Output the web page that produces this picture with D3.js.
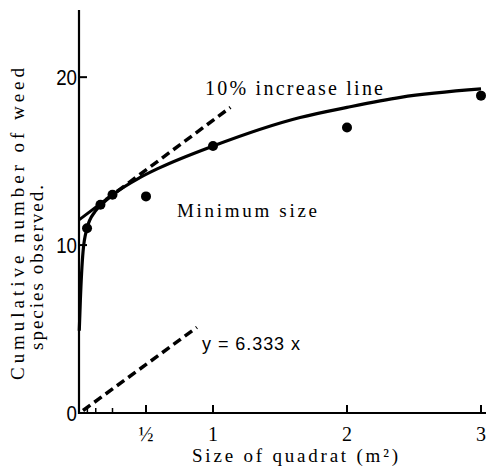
<!DOCTYPE html>
<html>
<head>
<meta charset="utf-8">
<script src="https://cdn.jsdelivr.net/npm/d3@7"></script>
<style>
  body { margin: 0; background: #fff; }
  svg { display: block; }
</style>
</head>
<body>
<div id="chart"></div>
<script>
// observed points
const sizes = [0.06, 0.16, 0.25, 0.5, 1, 2, 3];
const species = [11.0, 12.4, 13.0, 12.9, 15.9, 17.0, 18.9];

// fitted curve
const curveX = [0.002, 0.01, 0.03, 0.06, 0.12, 0.18, 0.27, 0.45, 0.6, 1, 1.65, 2, 2.4, 3];
const curveY = [4.9, 6.7, 9.6, 11.0, 12.0, 12.5, 13.1, 14.0, 14.6, 15.9, 17.6, 18.2, 18.8, 19.3];

// 10% increase line (solid part, then dashed)
const tenPctX = [0, 0.2, 1.13];
const tenPctY = [11.5, 12.7, 18.2];

// y = 6.333x reference line
const refX = [0.03, 0.88];
const refY = [0.15, 5.1];

const xTicksMajor = [0.5, 1, 2, 3];
const xTickLabels = ["½", "1", "2", "3"];
const xTicksMinor = [1/16, 1/8, 1/4];
const yTicks = [0, 10, 20];

const SERIF = "'Liberation Serif', 'Times New Roman', 'DejaVu Serif', Times, serif";
const SANS = "'Liberation Sans Narrow', 'Arial Narrow', 'Liberation Sans', Arial, sans-serif";

const width = 487, height = 469;

const svg = d3.select("#chart").append("svg")
    .attr("width", width)
    .attr("height", height);

const x = d3.scaleLinear().domain([0, 3]).range([79, 481]);
const y = d3.scaleLinear().domain([0, 24]).range([413, 10]);

// axes lines
svg.append("line")
    .attr("x1", x(0)).attr("x2", x(0))
    .attr("y1", y(0) + 1).attr("y2", y(24))
    .attr("stroke", "#000").attr("stroke-width", 2.2);
svg.append("line")
    .attr("x1", x(0) - 1).attr("x2", 486)
    .attr("y1", y(0)).attr("y2", y(0))
    .attr("stroke", "#000").attr("stroke-width", 2.2);

// y ticks (inward)
svg.selectAll(".ytick")
    .data(yTicks)
    .enter().append("line")
    .attr("x1", x(0)).attr("x2", x(0) + 8)
    .attr("y1", d => y(d)).attr("y2", d => y(d))
    .attr("stroke", "#000").attr("stroke-width", 2);

svg.selectAll(".ylab")
    .data(yTicks)
    .enter().append("text")
    .attr("font-family", SANS)
    .attr("x", x(0) - 2)
    .attr("y", d => y(d) + 8)
    .attr("text-anchor", "end")
    .attr("font-size", 22)
    .attr("transform", d => `translate(${x(0) - 2},${y(d)}) scale(0.85,1) translate(${-(x(0) - 2)},${-y(d)})`)
    .text(d => d);

// x ticks
svg.selectAll(".xtick")
    .data(xTicksMajor)
    .enter().append("line")
    .attr("x1", d => x(d)).attr("x2", d => x(d))
    .attr("y1", y(0)).attr("y2", y(0) - 8)
    .attr("stroke", "#000").attr("stroke-width", 2);

svg.selectAll(".xminor")
    .data(xTicksMinor)
    .enter().append("line")
    .attr("x1", d => x(d)).attr("x2", d => x(d))
    .attr("y1", y(0)).attr("y2", y(0) - 5)
    .attr("stroke", "#000").attr("stroke-width", 1.5);

svg.selectAll(".xlab")
    .data(xTicksMajor)
    .enter().append("text")
    .attr("font-family", SERIF)
    .attr("x", d => x(d))
    .attr("y", 441)
    .attr("text-anchor", "middle")
    .attr("font-size", 20)
    .text((d, i) => xTickLabels[i]);

// axis titles
svg.append("text")
    .attr("font-family", SERIF)
    .attr("x", 192).attr("y", 462)
    .attr("font-size", 19)
    .attr("textLength", 206)
    .attr("lengthAdjust", "spacing")
    .text("Size of quadrat (m²)");

svg.append("text")
    .attr("font-family", SERIF)
    .attr("transform", "translate(24,380) rotate(-90)")
    .attr("font-size", 19)
    .attr("textLength", 312)
    .attr("lengthAdjust", "spacing")
    .text("Cumulative number of weed");

svg.append("text")
    .attr("font-family", SERIF)
    .attr("transform", "translate(43,350) rotate(-90)")
    .attr("font-size", 19)
    .attr("textLength", 165)
    .attr("lengthAdjust", "spacing")
    .text("species observed.");

// fitted curve
const line = d3.line()
    .x(d => x(d[0]))
    .y(d => y(d[1]))
    .curve(d3.curveMonotoneX);

svg.append("path")
    .datum(curveX.map((v, i) => [v, curveY[i]]))
    .attr("d", line)
    .attr("fill", "none")
    .attr("stroke", "#000")
    .attr("stroke-width", 3.2);

// 10% increase line
const straight = d3.line().x(d => x(d[0])).y(d => y(d[1]));
const tenPct = tenPctX.map((v, i) => [v, tenPctY[i]]);

svg.append("path")
    .datum(tenPct.slice(0, 2))
    .attr("d", straight)
    .attr("fill", "none")
    .attr("stroke", "#000")
    .attr("stroke-width", 3);

svg.append("path")
    .datum(tenPct.slice(1))
    .attr("d", straight)
    .attr("fill", "none")
    .attr("stroke", "#000")
    .attr("stroke-width", 3.5)
    .attr("stroke-dasharray", "9,5");

// y = 6.333x line
svg.append("path")
    .datum(refX.map((v, i) => [v, refY[i]]))
    .attr("d", straight)
    .attr("fill", "none")
    .attr("stroke", "#000")
    .attr("stroke-width", 3.5)
    .attr("stroke-dasharray", "9,5");

// observed points
svg.selectAll(".dot")
    .data(sizes)
    .enter().append("circle")
    .attr("cx", d => x(d))
    .attr("cy", (d, i) => y(species[i]))
    .attr("r", 5)
    .attr("fill", "#000");

// annotations
svg.append("text")
    .attr("font-family", SERIF)
    .attr("x", 205).attr("y", 95)
    .attr("font-size", 20)
    .attr("textLength", 178)
    .attr("lengthAdjust", "spacing")
    .text("10% increase line");

svg.append("text")
    .attr("font-family", SERIF)
    .attr("x", 177).attr("y", 217)
    .attr("font-size", 19)
    .attr("textLength", 140)
    .attr("lengthAdjust", "spacing")
    .text("Minimum size");

svg.append("text")
    .attr("font-family", SANS)
    .attr("x", 202).attr("y", 350)
    .attr("font-size", 18)
    .attr("textLength", 98)
    .attr("lengthAdjust", "spacing")
    .text("y = 6.333 x");
</script>
</body>
</html>
